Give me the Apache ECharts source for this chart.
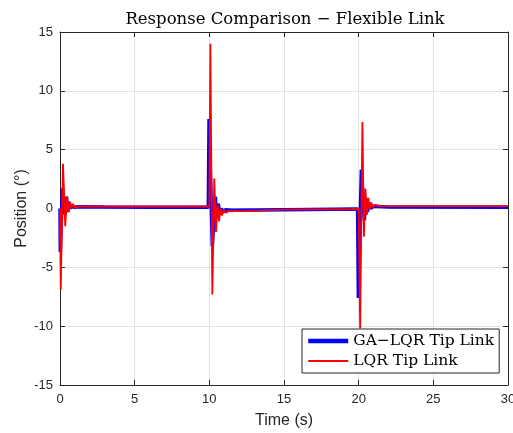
<!DOCTYPE html>
<html>
<head>
<meta charset="utf-8">
<script src="https://cdn.jsdelivr.net/npm/echarts@6/dist/echarts.min.js"></script>
<style>html,body{margin:0;padding:0;background:#fff}#c{width:513px;height:433px}</style>
</head>
<body>
<div id="c"></div>
<script>
// ---- data ----
const seriesNames = ['GA\u2212LQR Tip Link', 'LQR Tip Link'];
const xTicks = [0, 5, 10, 15, 20, 25, 30];
const yTicks = [-15, -10, -5, 0, 5, 10, 15];

const gaTime = [0, 0.02, 0.08, 0.16, 0.24, 0.34, 0.44, 0.52, 0.6, 0.7, 0.8, 0.95, 1.2, 3, 6, 9.93,
  9.98, 10.08, 10.2, 10.28, 10.4, 10.5, 10.6, 10.7, 10.8, 10.9, 11.1, 11.5, 15, 19.93,
  19.98, 20.08, 20.18, 20.28, 20.38, 20.48, 20.58, 20.68, 20.8, 21, 22, 30];
const gaPos = [0, -3.7, -3.7, 1.7, 1.7, -0.5, 1.0, -0.3, 0.5, 0.0, 0.25, 0.1, 0.15, 0.12, 0.1, 0.1,
  7.6, 7.6, -3.2, -3.2, 1.0, -0.8, 0.4, -0.5, 0.0, -0.3, -0.1, -0.15, -0.1, -0.05,
  -7.6, -7.6, 3.3, 3.3, -1.0, 0.9, -0.3, 0.5, 0.0, 0.2, 0.12, 0.1];

const lqrTime = [0, 0.05, 0.2, 0.35, 0.47, 0.57, 0.67, 0.77, 0.87, 0.97, 1.1, 1.3, 5, 10.0,
  10.07, 10.2, 10.33, 10.45, 10.55, 10.65, 10.75, 10.85, 10.95, 11.1, 11.3, 12, 15, 20.0,
  20.1, 20.25, 20.35, 20.45, 20.55, 20.65, 20.75, 20.85, 20.95, 21.1, 21.4, 30];
const lqrPos = [0, -6.9, 3.8, -1.5, 1.0, -0.3, 0.6, 0.0, 0.4, 0.1, 0.25, 0.17, 0.17, 0.17,
  14.0, -7.3, 2.55, -2.0, 0.45, -1.1, 0.0, -0.6, -0.1, -0.35, -0.2, -0.22, -0.1, -0.05,
  -10.2, 7.35, -2.4, 1.7, -0.55, 0.9, -0.1, 0.5, 0.1, 0.3, 0.2, 0.2];

// ---- chart ----
const pairs = (t, v) => t.map((x, i) => [x, v[i]]);
const axisColor = '#262626';
const gridColor = '#e3e3e3';
const sans = 'Liberation Sans';
const serif = 'DejaVu Serif';

const baseX = {
  type: 'value', min: xTicks[0], max: xTicks[xTicks.length - 1], interval: 5,
  axisLine: { show: true, onZero: false, lineStyle: { color: axisColor, width: 1 } },
  axisTick: { show: true, inside: true, length: 5, lineStyle: { color: axisColor } },
};
const baseY = {
  type: 'value', min: yTicks[0], max: yTicks[yTicks.length - 1], interval: 5,
  axisLine: { show: true, onZero: false, lineStyle: { color: axisColor, width: 1 } },
  axisTick: { show: true, inside: true, length: 5, lineStyle: { color: axisColor } },
};

const chart = echarts.init(document.getElementById('c'), null, { renderer: 'canvas' });
chart.setOption({
  animation: false,
  backgroundColor: '#fff',
  title: {
    text: 'Response Comparison \u2212 Flexible Link',
    left: 280, top: 6, textAlign: 'center',
    textStyle: { fontFamily: serif, fontSize: 16.5, fontWeight: 'normal', color: '#000' }
  },
  grid: { left: 60, right: 5, top: 32, bottom: 48, containLabel: false, outerBoundsMode: 'none' },
  xAxis: [
    Object.assign({}, baseX, {
      position: 'bottom',
      name: 'Time (s)', nameLocation: 'middle', nameGap: 28, nameMoveOverlap: false,
      nameTextStyle: { fontFamily: sans, fontSize: 16, color: axisColor },
      axisLabel: { fontFamily: sans, fontSize: 13, color: axisColor, margin: 8 },
      splitLine: { show: true, lineStyle: { color: gridColor, width: 1 } }
    }),
    Object.assign({}, baseX, {
      position: 'top', axisLabel: { show: false }, splitLine: { show: false }
    })
  ],
  yAxis: [
    Object.assign({}, baseY, {
      position: 'left',
      name: 'Position (\u00b0)', nameLocation: 'middle', nameGap: 30, nameMoveOverlap: false,
      nameTextStyle: { fontFamily: sans, fontSize: 16, color: axisColor },
      axisLabel: { fontFamily: sans, fontSize: 13, color: axisColor, margin: 7 },
      splitLine: { show: true, lineStyle: { color: gridColor, width: 1 } }
    }),
    Object.assign({}, baseY, {
      position: 'right', axisLabel: { show: false }, splitLine: { show: false }
    })
  ],
  legend: {
    orient: 'vertical', left: 302, top: 329, align: 'left',
    backgroundColor: '#fff', borderColor: axisColor, borderWidth: 1, borderRadius: 0,
    padding: [4, 5, 4, 4], itemGap: 4, itemWidth: 40, itemHeight: 16,
    itemStyle: { opacity: 0 },
    textStyle: { fontFamily: serif, fontSize: 15.5, color: '#000' },
    data: [
      { name: seriesNames[0], lineStyle: { width: 4.5 } },
      { name: seriesNames[1], lineStyle: { width: 2 } }
    ]
  },
  series: [
    {
      name: seriesNames[0], type: 'line', xAxisIndex: 0, yAxisIndex: 0,
      data: pairs(gaTime, gaPos), showSymbol: false, symbol: 'none',
      lineStyle: { color: '#0000ff', width: 3.5 }, itemStyle: { color: '#0000ff' }, z: 2
    },
    {
      name: seriesNames[1], type: 'line', xAxisIndex: 0, yAxisIndex: 0,
      data: pairs(lqrTime, lqrPos), showSymbol: false, symbol: 'none',
      lineStyle: { color: '#ff0000', width: 1.8 }, itemStyle: { color: '#ff0000' }, z: 3
    }
  ]
});
</script>
</body>
</html>
